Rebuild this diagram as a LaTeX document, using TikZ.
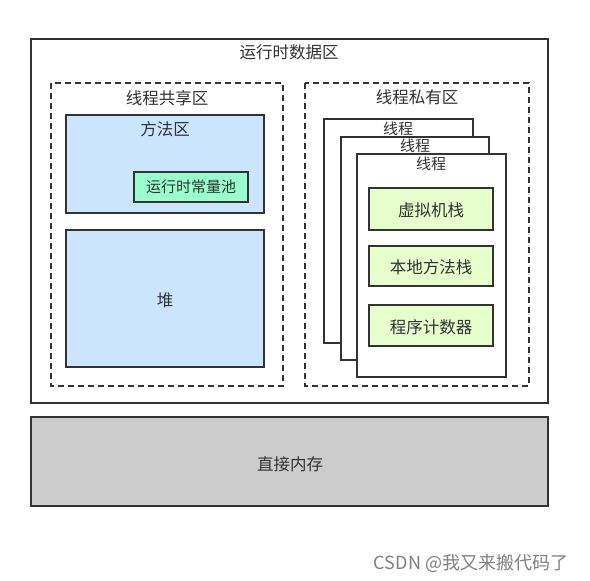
\documentclass[tikz,border=0pt]{standalone}
\usepackage{fontspec}
\setmainfont{Noto Sans CJK SC}
\definecolor{lblue}{HTML}{CCE5FF}
\definecolor{lgreen}{HTML}{E6FFCC}
\definecolor{pgreen}{HTML}{99FFCC}
\definecolor{ink}{HTML}{333333}
\begin{document}
\begin{tikzpicture}[x=1pt,y=-1pt,
  every node/.style={inner sep=0pt, text=ink, font=\fontsize{16.5}{18}\selectfont},
  small/.style={font=\fontsize{15}{17}\selectfont},
  boxline/.style={draw=ink, line width=1.2pt},
  dashbox/.style={draw=ink, line width=1.2pt, dash pattern=on 6pt off 4pt},
  bluebox/.style={boxline, fill=lblue},
  greenbox/.style={boxline, fill=lgreen},
  poolbox/.style={boxline, fill=pgreen},
  threadbox/.style={boxline, fill=white},
  lbl/.style={anchor=center}]
\useasboundingbox (0,0) rectangle (590,581);
\fill[white] (0,0) rectangle (590,581);
% outer runtime data area
\draw[boxline] (31,39) rectangle (548,403);
\node[lbl] (rt) at (289,52) {运行时数据区};
% direct memory
\draw[boxline, fill=black!20] (31,417) rectangle (548,506);
\node[lbl] (dm) at (290,464) {直接内存};
% shared area
\draw[dashbox] (51,83) rectangle (283,386);
\node[lbl] (sh) at (167,98) {线程共享区};
\draw[bluebox] (66,115) rectangle (264,213);
\node[lbl] (ma) at (165,129) {方法区};
\draw[poolbox] (134,172) rectangle (248,202);
\node[lbl, small] (pool) at (191,187) {运行时常量池};
\draw[bluebox] (66,230) rectangle (264,367);
\node[lbl] (heap) at (165,300) {堆};
% private area
\draw[dashbox] (305,83) rectangle (529,386);
\node[lbl] (pv) at (417,97) {线程私有区};
\draw[threadbox] (324,119) rectangle (473,343);
\node[lbl, small] (t1) at (398,129) {线程};
\draw[threadbox] (341,137) rectangle (489,360);
\node[lbl, small] (t2) at (415,146) {线程};
\draw[threadbox] (357,154) rectangle (506,377);
\node[lbl, small] (t3) at (431,164) {线程};
\draw[greenbox] (369,188) rectangle (493,230);
\node[lbl] (vs) at (431,210) {虚拟机栈};
\draw[greenbox] (369,246) rectangle (493,286);
\node[lbl] (ns) at (431,267) {本地方法栈};
\draw[greenbox] (369,305) rectangle (493,346);
\node[lbl] (pc) at (431,327) {程序计数器};
% watermark
\node[lbl, text=black!50, font=\fontsize{18}{20}\selectfont] (wm) at (471,563) {CSDN @我又来搬代码了};
\end{tikzpicture}
\end{document}
